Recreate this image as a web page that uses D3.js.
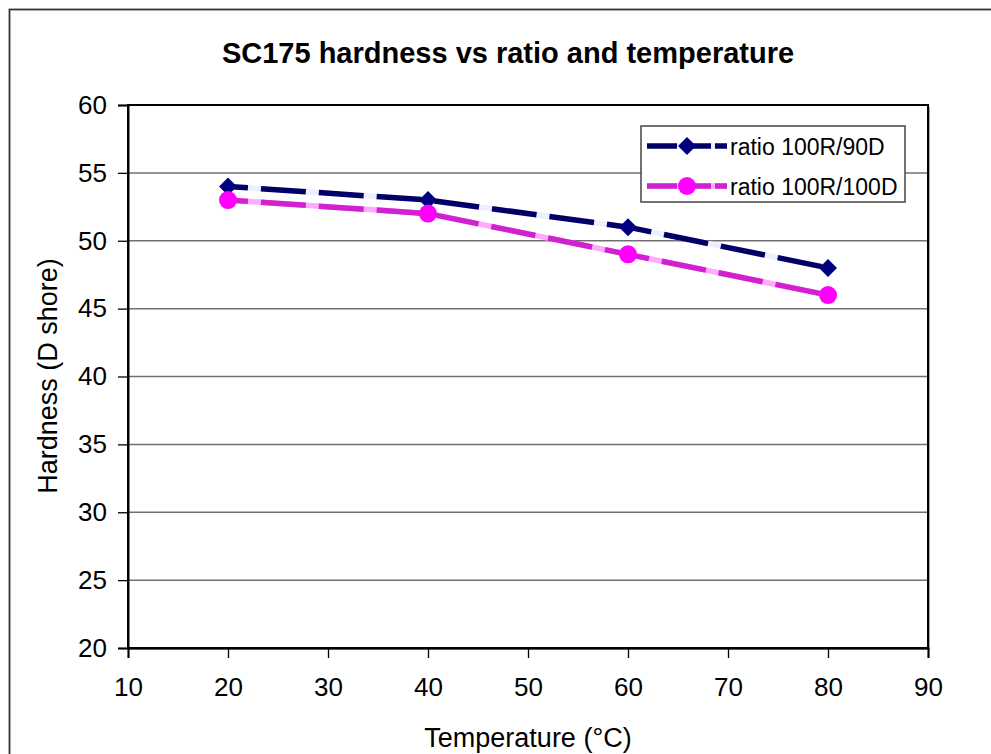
<!DOCTYPE html>
<html><head><meta charset="utf-8">
<script src="https://cdn.jsdelivr.net/npm/d3@7"></script>
<style>body{margin:0;background:#fff}svg{display:block}text{font-family:"Liberation Sans",Arial,sans-serif}</style>
</head><body>
<svg id="c" width="991" height="754"></svg>
<script>
const temperatures = [20, 40, 60, 80];
const ratio90D = [54, 53, 51, 48];
const ratio100D = [53, 52, 49, 46];
const seriesNames = ["ratio 100R/90D", "ratio 100R/100D"];
const xTicks = [10, 20, 30, 40, 50, 60, 70, 80, 90];
const yTicks = [20, 25, 30, 35, 40, 45, 50, 55, 60];

const svg = d3.select("#c");
svg.append("rect").attr("x", 9.5).attr("y", 9.5).attr("width", 1000).attr("height", 1000)
  .attr("fill", "#fff").attr("stroke", "#333").attr("stroke-width", 1.8);

const L = 128, R = 928, T = 105, B = 648;
const x = d3.scaleLinear().domain([10, 90]).range([L, R]);
const y = d3.scaleLinear().domain([20, 60]).range([B, T]);

// shadow
svg.append("rect").attr("x", L + 2).attr("y", T + 2).attr("width", R - L).attr("height", B - T).attr("fill", "#aaa");
svg.append("rect").attr("x", L).attr("y", T).attr("width", R - L).attr("height", B - T).attr("fill", "#fff");

// grid
svg.append("g").selectAll("line").data(yTicks.filter(d => d > 20 && d < 60)).join("line")
  .attr("x1", L).attr("x2", R).attr("y1", d => y(d)).attr("y2", d => y(d))
  .attr("stroke", "#707070").attr("stroke-width", 1.5);

svg.append("rect").attr("x", L).attr("y", T).attr("width", R - L).attr("height", B - T)
  .attr("fill", "none").attr("stroke", "#000").attr("stroke-width", 2);

const yAxis = svg.append("g").attr("transform", `translate(${L},0)`)
  .call(d3.axisLeft(y).tickValues(yTicks).tickSize(10).tickPadding(11));
const xAxis = svg.append("g").attr("transform", `translate(0,${B})`)
  .call(d3.axisBottom(x).tickValues(xTicks).tickSize(10).tickPadding(20));
[yAxis, xAxis].forEach(a => {
  a.select(".domain").attr("stroke", "#000").attr("stroke-width", 2);
  a.selectAll(".tick line").attr("stroke", "#000").attr("stroke-width", 1.3);
  a.selectAll(".tick text").attr("font-size", 26).attr("fill", "#000")
   .attr("font-family", "Liberation Sans, Arial, sans-serif");
});

svg.append("text").attr("x", 508).attr("y", 63).attr("text-anchor", "middle")
  .attr("font-size", 29).attr("font-weight", "bold").text("SC175 hardness vs ratio and temperature");
svg.append("text").attr("x", 528).attr("y", 747).attr("text-anchor", "middle")
  .attr("font-size", 27).text("Temperature (°C)");
svg.append("text").attr("transform", "translate(57,376) rotate(-90)").attr("text-anchor", "middle")
  .attr("font-size", 27).text("Hardness (D shore)");

const series = [
  {name: seriesNames[0], values: ratio90D, color: "#000066", light: "#eeeeff", marker: "diamond"},
  {name: seriesNames[1], values: ratio100D, color: "#d020d0", light: "#ffaaff", marker: "circle"}
];
const line = d3.line().x((d, i) => x(temperatures[i])).y(d => y(d));

function drawMarker(g, type, cx, cy) {
  if (type === "diamond") {
    const h = 9;
    g.append("path").attr("d", `M${cx},${cy - h}L${cx + h},${cy}L${cx},${cy + h}L${cx - h},${cy}Z`)
      .attr("fill", "#000080");
  } else {
    g.append("circle").attr("cx", cx).attr("cy", cy).attr("r", 9).attr("fill", "#ff00ff");
  }
}

series.forEach(s => {
  svg.append("path").datum(s.values).attr("d", line).attr("fill", "none")
    .attr("stroke", s.light).attr("stroke-width", 5.5);
  svg.append("path").datum(s.values).attr("d", line).attr("fill", "none")
    .attr("stroke", s.color).attr("stroke-width", 5.5).attr("stroke-dasharray", "45,13")
    .attr("stroke-dashoffset", -33);
  const g = svg.append("g");
  s.values.forEach((v, i) => drawMarker(g, s.marker, x(temperatures[i]), y(v)));
});

// legend
const lg = svg.append("g");
lg.append("rect").attr("x", 641).attr("y", 126).attr("width", 264).attr("height", 76)
  .attr("fill", "#fff").attr("stroke", "#444").attr("stroke-width", 1.5);
series.forEach((s, i) => {
  const ly = 146 + i * 40;
  lg.append("line").attr("x1", 647).attr("x2", 727).attr("y1", ly).attr("y2", ly)
    .attr("stroke", s.light).attr("stroke-width", 5.5);
  lg.append("line").attr("x1", 647).attr("x2", 727).attr("y1", ly).attr("y2", ly)
    .attr("stroke", s.color).attr("stroke-width", 5.5).attr("stroke-dasharray", "30,4");
  drawMarker(lg, s.marker, 687, ly);
  lg.append("text").attr("x", 730).attr("y", ly + 9).attr("font-size", 23).text(s.name);
});
</script>
</body></html>
